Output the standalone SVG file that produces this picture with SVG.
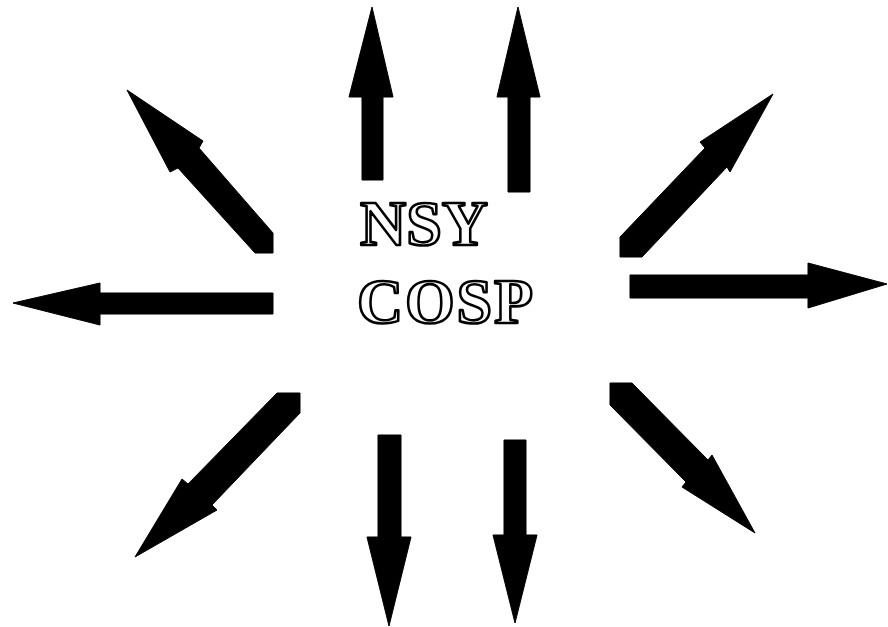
<svg xmlns="http://www.w3.org/2000/svg" width="888" height="627" viewBox="0 0 888 627">
<style>
.arrow { fill: #000; stroke: #000; stroke-width: 1; stroke-linejoin: miter; }
.label { font-family: "Liberation Serif", "Times New Roman", serif; font-weight: bold; font-size: 64px; fill: #fff; stroke: #000; stroke-width: 2.6; stroke-linejoin: round; }
</style>
<rect width="888" height="627" fill="#fff"/>
<g id="center">
  <text class="label" x="360" y="245" textLength="128">NSY</text>
  <text class="label" x="357" y="323" textLength="176">COSP</text>
</g>
<g id="connectors">
  <polygon id="arrow-up-left" class="arrow" points="127,90 203,141 199,148 273,233 273,253 255,253 178,168 170,172"/>
  <polygon id="arrow-up-1" class="arrow" points="372,7 393,97 383,97 383,180 362,180 362,97 349,97"/>
  <polygon id="arrow-up-2" class="arrow" points="518,7 540,97 530,97 530,192 508,192 508,97 497,97"/>
  <polygon id="arrow-up-right" class="arrow" points="773,94 730,172 727,167 642,257 620,257 620,237 705,148 700,142"/>
  <polygon id="arrow-left" class="arrow" points="13,303 100,283 100,293 273,293 273,314 100,314 100,325"/>
  <polygon id="arrow-right" class="arrow" points="887,284 808,308 808,298 630,298 630,275 808,275 808,263"/>
  <polygon id="arrow-down-left" class="arrow" points="135,557 182,479 188,484 277,393 300,393 300,413 212,505 217,510"/>
  <polygon id="arrow-down-1" class="arrow" points="389,626 367,537 378,537 378,435 401,435 401,537 411,537"/>
  <polygon id="arrow-down-2" class="arrow" points="515,623 493,535 504,535 504,440 526,440 526,535 537,535"/>
  <polygon id="arrow-down-right" class="arrow" points="755,533 682,487 686,482 610,405 610,383 632,383 708,460 712,455"/>
</g>
</svg>
